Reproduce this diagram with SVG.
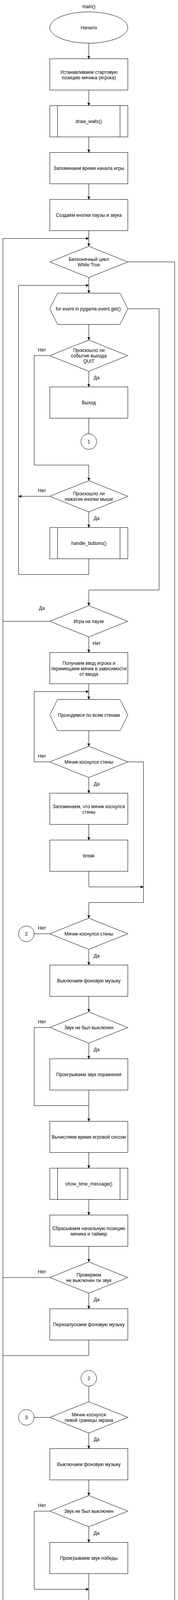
<svg xmlns="http://www.w3.org/2000/svg" width="456" height="5991" viewBox="0 0 456 5991">
<style>
.n{fill:#fff;stroke:#000;stroke-width:1}
.c{fill:none;stroke:#000;stroke-width:1}
.a{marker-end:url(#arr)}
.t{font-family:"Liberation Sans",Arial,Helvetica,sans-serif;font-size:12px;text-anchor:middle;fill:#000}
</style>
<defs>
<marker id="arr" viewBox="0 0 8 8" refX="8" refY="4" markerWidth="8" markerHeight="8" markerUnits="userSpaceOnUse" orient="auto">
<path d="M0,0.5 L8,4 L0,7.5 L2,4 z" fill="#000" stroke="#000" stroke-width="0.5"/>
</marker>
</defs>
<rect x="0" y="0" width="456" height="5991" fill="#fff"/>
<g transform="translate(0.5,0.5)">
<g id="connectors">
<path class="c a" d="M227,110 V150"/>
<path class="c a" d="M227,230 V270"/>
<path class="c a" d="M227,350 V390"/>
<path class="c a" d="M227,470 V510"/>
<path class="c a" d="M227,590 V630"/>
<path class="c a" d="M227,710 V750"/>
<path class="c a" d="M227,830 V870"/>
<path class="c a" d="M227,950 V990"/>
<path class="c" d="M227,1070 V1110"/>
<path class="c a" d="M127,910 H87 V1190 H227 V1230"/>
<path class="c a" d="M127,1270 H47"/>
<path class="c a" d="M227,1310 V1350"/>
<path class="c a" d="M227,1430 V1470 H47 V730 H227"/>
<path class="c a" d="M327,790 H407 V1510 H227 V1550"/>
<path class="c" d="M127,1590 H7"/>
<path class="c a" d="M227,1630 V1670"/>
<path class="c a" d="M227,1750 V1790"/>
<path class="c a" d="M227,1870 V1910"/>
<path class="c a" d="M127,1950 H87 V1770 H227"/>
<path class="c a" d="M227,1990 V2030"/>
<path class="c a" d="M327,1950 H367 V2310 H227 V2350"/>
<path class="c a" d="M227,2110 V2150"/>
<path class="c a" d="M227,2230 V2270 H367"/>
<path class="c" d="M127,2390 H87"/>
<path class="c a" d="M227,2430 V2470"/>
<path class="c a" d="M227,2550 V2590"/>
<path class="c" d="M127,2630 H87 V2830 H227"/>
<path class="c a" d="M227,2670 V2710"/>
<path class="c a" d="M227,2790 V2870"/>
<path class="c a" d="M227,2950 V2990"/>
<path class="c a" d="M227,3070 V3110"/>
<path class="c a" d="M227,3190 V3230"/>
<path class="c" d="M127,3270 H7"/>
<path class="c a" d="M227,3310 V3350"/>
<path class="c" d="M227,3430 V3470 H7"/>
<path class="c" d="M227,3548 V3588"/>
<path class="c" d="M87,3628 H127"/>
<path class="c a" d="M227,3668 V3708"/>
<path class="c a" d="M227,3788 V3828"/>
<path class="c a" d="M127,3868 H87 V4068 H227"/>
<path class="c a" d="M227,3908 V3948"/>
<path class="c a" d="M227,4028 V4108"/>
<path class="c a" d="M227,4188 V4228"/>
<path class="c a" d="M227,4308 V4348"/>
<path class="c a" d="M227,4428 V4468"/>
<path class="c" d="M127,4508 H7"/>
<path class="c a" d="M227,4548 V4588"/>
<path class="c" d="M227,4668 V4710 H7"/>
<path class="c" d="M227,4790 V4830"/>
<path class="c a" d="M227,4910 V4950"/>
<path class="c a" d="M227,5030 V5070"/>
<path class="c a" d="M227,5150 V5190 H87 V4930 H227"/>
<path class="c a" d="M327,4990 H367 V5230 H227 V5270"/>
<path class="c a" d="M227,5350 V5390"/>
<path class="c a" d="M227,5470 V5510"/>
<path class="c a" d="M227,5590 V5630"/>
<path class="c a" d="M227,5710 V5750 H7 V610 H227"/>
<path class="c" d="M327,670 H447 V5870 H227"/>
<path class="c a" d="M227,5830 V5910"/>
<g id="edge-labels">
<text class="t" x="247" y="970">Да</text>
<text class="t" x="107" y="899">Нет</text>
<text class="t" x="107" y="1259">Нет</text>
<text class="t" x="247" y="1330">Да</text>
<text class="t" x="107" y="1560">Да</text>
<text class="t" x="247" y="1650">Нет</text>
<text class="t" x="107" y="1939">Нет</text>
<text class="t" x="247" y="2010">Да</text>
<text class="t" x="107" y="2379">Нет</text>
<text class="t" x="247" y="2450">Да</text>
<text class="t" x="107" y="2619">Нет</text>
<text class="t" x="247" y="2690">Да</text>
<text class="t" x="107" y="3259">Нет</text>
<text class="t" x="247" y="3330">Да</text>
<text class="t" x="247" y="3688">Да</text>
<text class="t" x="107" y="3857">Нет</text>
<text class="t" x="247" y="3928">Да</text>
<text class="t" x="107" y="4480">Нет</text>
<text class="t" x="247" y="4568">Да</text>
</g>
</g>
<g id="title"><text class="t" x="227" y="20">main()</text></g>
<g id="n1"><ellipse class="n" cx="227" cy="70" rx="100" ry="40"/><text class="t" x="227" y="74">Начало</text></g>
<g id="n2"><rect class="n" x="127" y="150" width="200" height="80"/><text class="t" x="227" y="188">Устанавливаем стартовую</text><text class="t" x="227" y="202">позицию мячика (игрока)</text></g>
<g id="n3"><rect class="n" x="127" y="270" width="200" height="80"/><path class="c" d="M147,270 V350 M307,270 V350"/><text class="t" x="227" y="314">draw_walls()</text></g>
<g id="n4"><rect class="n" x="127" y="390" width="200" height="80"/><text class="t" x="227" y="434">Запоминаем время начала игры</text></g>
<g id="n5"><rect class="n" x="127" y="510" width="200" height="80"/><text class="t" x="227" y="554">Создаём кнопки паузы и звука</text></g>
<g id="n6"><polygon class="n" points="227,630 327,670 227,710 127,670"/><text class="t" x="227" y="667">Бесконечный цикл</text><text class="t" x="227" y="681">While True</text></g>
<g id="n7"><polygon class="n" points="147,750 307,750 327,790 307,830 147,830 127,790"/><text class="t" x="227" y="794">for event in pygame.event.get():</text></g>
<g id="n8"><polygon class="n" points="227,870 327,910 227,950 127,910"/><text class="t" x="227" y="900">Произошло ли</text><text class="t" x="227" y="914">событие выхода</text><text class="t" x="227" y="928">QUIT</text></g>
<g id="n9"><rect class="n" x="127" y="990" width="200" height="80"/><text class="t" x="227" y="1034">Выход</text></g>
<g id="n10"><circle class="n" cx="227" cy="1130" r="20"/><text class="t" x="227" y="1134">1</text></g>
<g id="n11"><polygon class="n" points="227,1230 327,1270 227,1310 127,1270"/><text class="t" x="227" y="1267">Произошло ли</text><text class="t" x="227" y="1281">нажатие кнопки мыши</text></g>
<g id="n12"><rect class="n" x="127" y="1350" width="200" height="80"/><path class="c" d="M147,1350 V1430 M307,1350 V1430"/><text class="t" x="227" y="1394">handle_buttons()</text></g>
<g id="n13"><polygon class="n" points="227,1550 327,1590 227,1630 127,1590"/><text class="t" x="227" y="1594">Игра на паузе</text></g>
<g id="n14"><rect class="n" x="127" y="1670" width="200" height="80"/><text class="t" x="227" y="1701">Получаем ввод игрока и</text><text class="t" x="227" y="1715">перемещаем мячик в зависимости</text><text class="t" x="227" y="1729">от ввода</text></g>
<g id="n15"><polygon class="n" points="147,1790 307,1790 327,1830 307,1870 147,1870 127,1830"/><text class="t" x="227" y="1834">Проходимся по всем стенам</text></g>
<g id="n16"><polygon class="n" points="227,1910 327,1950 227,1990 127,1950"/><text class="t" x="227" y="1954">Мячик коснулся стены</text></g>
<g id="n17"><rect class="n" x="127" y="2030" width="200" height="80"/><text class="t" x="227" y="2068">Запоминаем, что мячик коснулся</text><text class="t" x="227" y="2082">стены</text></g>
<g id="n18"><rect class="n" x="127" y="2150" width="200" height="80"/><text class="t" x="227" y="2194">break</text></g>
<g id="n19"><polygon class="n" points="227,2350 327,2390 227,2430 127,2390"/><text class="t" x="227" y="2394">Мячик коснулся стены</text></g>
<g id="n20"><circle class="n" cx="67" cy="2390" r="20"/><text class="t" x="67" y="2394">2</text></g>
<g id="n21"><rect class="n" x="127" y="2470" width="200" height="80"/><text class="t" x="227" y="2514">Выключаем фоновую музыку</text></g>
<g id="n22"><polygon class="n" points="227,2590 327,2630 227,2670 127,2630"/><text class="t" x="227" y="2634">Звук не был выключен</text></g>
<g id="n23"><rect class="n" x="127" y="2710" width="200" height="80"/><text class="t" x="227" y="2754">Проигрываем звук поражения</text></g>
<g id="n24"><rect class="n" x="127" y="2870" width="200" height="80"/><text class="t" x="227" y="2914">Вычисляем время игровой сессии</text></g>
<g id="n25"><rect class="n" x="127" y="2990" width="200" height="80"/><path class="c" d="M147,2990 V3070 M307,2990 V3070"/><text class="t" x="227" y="3034">show_time_message()</text></g>
<g id="n26"><rect class="n" x="127" y="3110" width="200" height="80"/><text class="t" x="227" y="3148">Сбрасываем начальную позицию</text><text class="t" x="227" y="3162">мячика и таймер</text></g>
<g id="n27"><polygon class="n" points="227,3230 327,3270 227,3310 127,3270"/><text class="t" x="227" y="3267">Проверяем</text><text class="t" x="227" y="3281">не выключен ли звук</text></g>
<g id="n28"><rect class="n" x="127" y="3350" width="200" height="80"/><text class="t" x="227" y="3394">Перезапускаем фоновую музыку</text></g>
<g id="n29"><circle class="n" cx="227" cy="3528" r="20"/><text class="t" x="227" y="3532">2</text></g>
<g id="n30"><polygon class="n" points="227,3588 327,3628 227,3668 127,3628"/><text class="t" x="227" y="3625">Мячик коснулся</text><text class="t" x="227" y="3639">левой границы экрана</text></g>
<g id="n31"><circle class="n" cx="67" cy="3628" r="20"/><text class="t" x="67" y="3632">3</text></g>
<g id="n32"><rect class="n" x="127" y="3708" width="200" height="80"/><text class="t" x="227" y="3752">Выключаем фоновую музыку</text></g>
<g id="n33"><polygon class="n" points="227,3828 327,3868 227,3908 127,3868"/><text class="t" x="227" y="3872">Звук не был выключен</text></g>
<g id="n34"><rect class="n" x="127" y="3948" width="200" height="80"/><text class="t" x="227" y="3992">Проигрываем звук победы</text></g>
<g id="n35"><rect class="n" x="127" y="4108" width="200" height="80"/><text class="t" x="227" y="4152">Вычисляем время игровой сессии</text></g>
<g id="n36"><rect class="n" x="127" y="4228" width="200" height="80"/><path class="c" d="M147,4228 V4308 M307,4228 V4308"/><text class="t" x="227" y="4272">show_time_message()</text></g>
<g id="n37"><rect class="n" x="127" y="4348" width="200" height="80"/><text class="t" x="227" y="4386">Сбрасываем начальную позицию</text><text class="t" x="227" y="4400">мячика и таймер</text></g>
<g id="n38"><polygon class="n" points="227,4468 327,4508 227,4548 127,4508"/><text class="t" x="227" y="4505">Проверяем</text><text class="t" x="227" y="4519">не выключен ли звук</text></g>
<g id="n39"><rect class="n" x="127" y="4588" width="200" height="80"/><text class="t" x="227" y="4632">Перезапускаем фоновую музыку</text></g>
<g id="n40"><circle class="n" cx="227" cy="4770" r="20"/><text class="t" x="227" y="4774">3</text></g>
<g id="n41"><rect class="n" x="127" y="4830" width="200" height="80"/><text class="t" x="227" y="4874">Очищаем экран</text></g>
<g id="n42"><polygon class="n" points="147,4950 307,4950 327,4990 307,5030 147,5030 127,4990"/><text class="t" x="227" y="4994">Проходим по списку со стенами</text></g>
<g id="n43"><rect class="n" x="127" y="5070" width="200" height="80"/><text class="t" x="227" y="5114">Отрисовываем стены</text></g>
<g id="n44"><rect class="n" x="127" y="5270" width="200" height="80"/><text class="t" x="227" y="5314">Отрисовываем мячик (игрока)</text></g>
<g id="n45"><rect class="n" x="127" y="5390" width="200" height="80"/><text class="t" x="227" y="5434">Очищаем и отрисовываем таймер</text></g>
<g id="n46"><rect class="n" x="127" y="5510" width="200" height="80"/><text class="t" x="227" y="5548">Отрисовываем кнопки и текст в</text><text class="t" x="227" y="5562">них</text></g>
<g id="n47"><rect class="n" x="127" y="5630" width="200" height="80"/><text class="t" x="227" y="5674">Обновляем экран</text></g>
<g id="n48"><circle class="n" cx="227" cy="5810" r="20"/><text class="t" x="227" y="5814">1</text></g>
<g id="n49"><ellipse class="n" cx="227" cy="5950" rx="100" ry="40"/><text class="t" x="227" y="5954">Конец</text></g>
</g>
</svg>
